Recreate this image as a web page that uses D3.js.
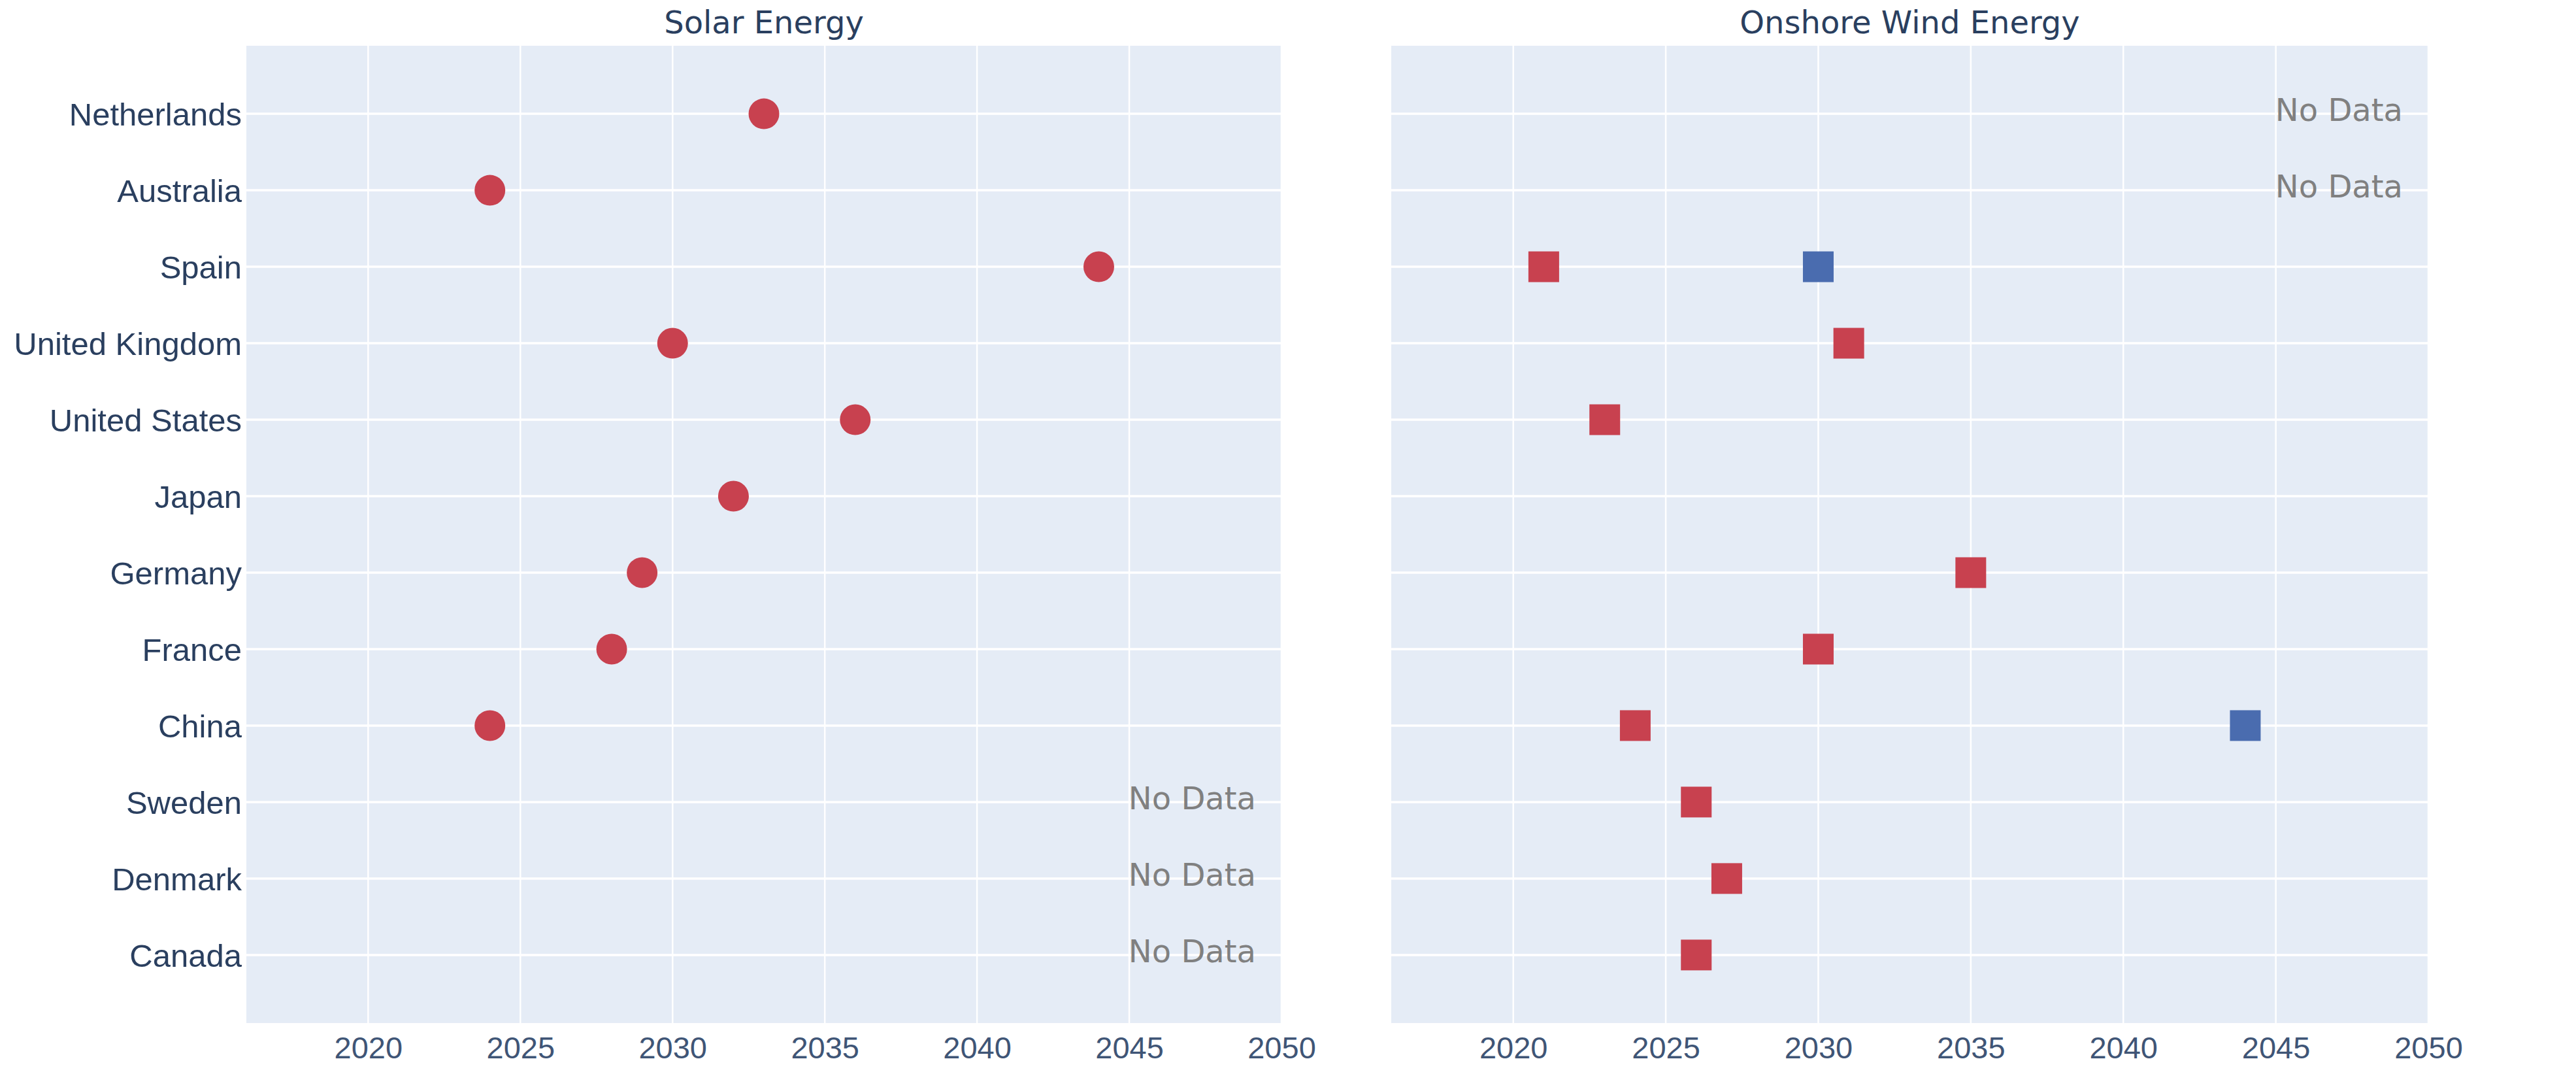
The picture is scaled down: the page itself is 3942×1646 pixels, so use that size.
<!DOCTYPE html>
<html>
<head>
<meta charset="utf-8">
<script src="https://cdn.jsdelivr.net/npm/d3@7"></script>
<style>
	html, body { margin: 0; padding: 0; background: #ffffff; }
	svg { display: block; }
</style>
</head>
<body>
<div id="vis-container"></div>
<script>
// countries, top to bottom
var countries = ["Netherlands", "Australia", "Spain", "United Kingdom", "United States", "Japan",
	"Germany", "France", "China", "Sweden", "Denmark", "Canada"];

// solar: year per country (null = no marker)
var solarRed = [2033, 2024, 2044, 2030, 2036, 2032, 2029, 2028, 2024, null, null, null];
var solarNoData = ["Sweden", "Denmark", "Canada"];

// onshore wind: two series
var windRed = [null, null, 2021, 2031, 2023, null, 2035, 2030, 2024, 2026, 2027, 2026];
var windBlue = [null, null, 2030, null, null, null, null, null, 2044, null, null, null];
var windNoData = ["Netherlands", "Australia"];

var xTicks = [2020, 2025, 2030, 2035, 2040, 2045, 2050];
var xDomain = [2016, 2050];

var width = 3942;
var height = 1646;

var panels = [
	{ title: "Solar Energy", x0: 377, x1: 1961, shape: "circle",
		series: [{ values: solarRed, color: "#c8414f" }], noData: solarNoData, showY: true },
	{ title: "Onshore Wind Energy", x0: 2129, x1: 3716, shape: "square",
		series: [{ values: windRed, color: "#c8414f" }, { values: windBlue, color: "#4a6caf" }],
		noData: windNoData, showY: false }
];

var plotTop = 70, plotBottom = 1565;

var svg = d3.select("#vis-container")
	.append("svg")
	.attr("width", width)
	.attr("height", height)
	.style("background-color", "#ffffff");

var y = d3.scalePoint()
	.domain(countries)
	.range([plotTop, plotBottom])
	.padding(0.89);

panels.forEach(function(p) {
	var x = d3.scaleLinear().domain(xDomain).range([p.x0, p.x1]);
	var g = svg.append("g");

	// background
	g.append("rect")
		.attr("x", p.x0)
		.attr("y", plotTop)
		.attr("width", p.x1 - p.x0)
		.attr("height", plotBottom - plotTop)
		.attr("fill", "#e5ecf6");

	// vertical grid
	g.selectAll(".vgrid")
		.data(xTicks)
		.enter().append("line")
		.attr("x1", function(d) { return x(d); })
		.attr("x2", function(d) { return x(d); })
		.attr("y1", plotTop)
		.attr("y2", plotBottom)
		.attr("stroke", "#ffffff")
		.attr("stroke-width", 2.5);

	// horizontal grid
	g.selectAll(".hgrid")
		.data(countries)
		.enter().append("line")
		.attr("x1", p.x0)
		.attr("x2", p.x1)
		.attr("y1", function(d) { return y(d); })
		.attr("y2", function(d) { return y(d); })
		.attr("stroke", "#ffffff")
		.attr("stroke-width", 3.5);

	// x axis labels
	var xAxis = d3.axisBottom(x).tickValues(xTicks).tickFormat(d3.format("d")).tickSize(0).tickPadding(21);
	var ax = g.append("g")
		.attr("transform", "translate(0," + plotBottom + ")")
		.call(xAxis);
	ax.select(".domain").remove();
	ax.selectAll("text")
		.attr("fill", "#3f5576")
		.style("font-family", "'Liberation Sans', Arial, sans-serif")
		.style("font-size", "47px");

	// y axis labels
	if (p.showY) {
		var yAxis = d3.axisLeft(y).tickSize(0).tickPadding(7);
		var ay = g.append("g")
			.attr("transform", "translate(" + p.x0 + ",0)")
			.call(yAxis);
		ay.select(".domain").remove();
		ay.selectAll("text")
			.attr("fill", "#2a3f5f")
			.attr("dy", "0.36em")
			.style("font-family", "'Liberation Sans', Arial, sans-serif")
			.style("font-size", "49px");
	}

	// title
	svg.append("text")
		.attr("x", (p.x0 + p.x1) / 2)
		.attr("y", 51)
		.attr("text-anchor", "middle")
		.attr("fill", "#2a3f5f")
		.style("font-family", "'DejaVu Sans', Verdana, sans-serif")
		.style("font-size", "48px")
		.text(p.title);

	// markers
	var size = 47;
	p.series.forEach(function(s) {
		var pts = countries.map(function(c, i) { return { c: c, v: s.values[i] }; })
			.filter(function(d) { return d.v !== null; });
		if (p.shape === "circle") {
			g.selectAll(null)
				.data(pts)
				.enter().append("circle")
				.attr("cx", function(d) { return x(d.v); })
				.attr("cy", function(d) { return y(d.c); })
				.attr("r", size / 2)
				.attr("fill", s.color);
		} else {
			g.selectAll(null)
				.data(pts)
				.enter().append("rect")
				.attr("x", function(d) { return x(d.v) - size / 2; })
				.attr("y", function(d) { return y(d.c) - size / 2; })
				.attr("width", size)
				.attr("height", size)
				.attr("fill", s.color);
		}
	});

	// no data notes
	g.selectAll(null)
		.data(p.noData)
		.enter().append("text")
		.attr("x", p.x1 - 39)
		.attr("y", function(d) { return y(d) + 11; })
		.attr("text-anchor", "end")
		.attr("fill", "#808080")
		.style("font-family", "'DejaVu Sans', Verdana, sans-serif")
		.style("font-size", "48px")
		.text("No Data");
});
</script>
</body>
</html>
